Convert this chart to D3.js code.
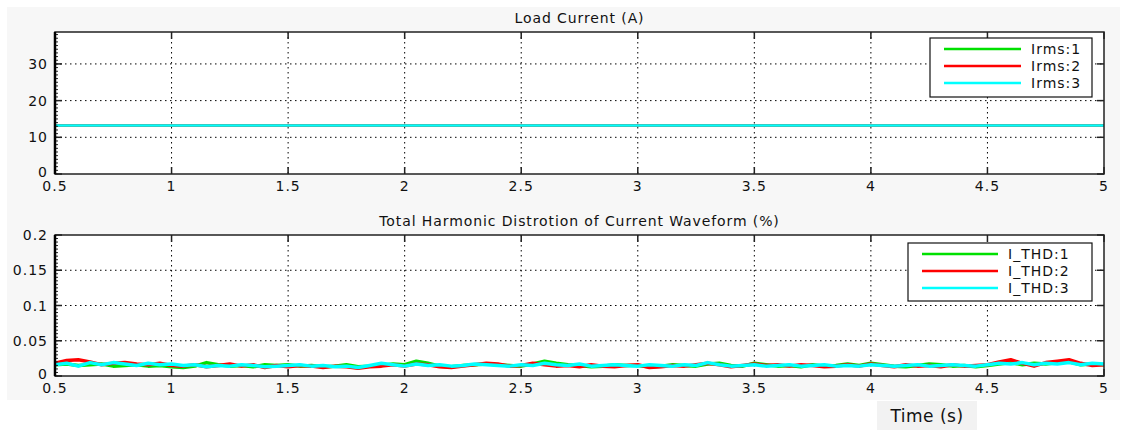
<!DOCTYPE html>
<html>
<head>
<meta charset="utf-8">
<script src="https://cdn.jsdelivr.net/npm/d3@7"></script>
<style>
  body { margin: 0; background: #fff; }
  text { font-family: "DejaVu Sans", sans-serif; fill: #111; }
</style>
</head>
<body>
<div id="chart"></div>
<script>
// ---------------------------------------------------------------
// data
// ---------------------------------------------------------------
var xTicks = [0.5, 1, 1.5, 2, 2.5, 3, 3.5, 4, 4.5, 5];
var xTickLabels = ["0.5", "1", "1.5", "2", "2.5", "3", "3.5", "4", "4.5", "5"];
var rmsTicks = [0, 10, 20, 30];
var thdTicks = [0, 0.05, 0.1, 0.15, 0.2];
var thdTickLabels = ["0", "0.05", "0.1", "0.15", "0.2"];

var rmsNames = ["Irms:1", "Irms:2", "Irms:3"];
var thdNames = ["I_THD:1", "I_THD:2", "I_THD:3"];
var colors = ["#00e000", "#ff0000", "#00ffff"];

// Load current: flat 13.2 A for all three phases
var rmsTime = [0.5, 5];
var irms1 = [13.2, 13.2];
var irms2 = [13.2, 13.2];
var irms3 = [13.2, 13.2];

// THD samples every 0.05 s from 0.5 to 5 s
var thdStep = 0.05;
var thd1 = [0.016, 0.017, 0.015, 0.016, 0.017, 0.014, 0.015, 0.016, 0.014, 0.015,
            0.013, 0.012, 0.014, 0.019, 0.016, 0.014, 0.015, 0.013, 0.016, 0.015,
            0.016, 0.014, 0.015, 0.013, 0.014, 0.016, 0.013, 0.014, 0.015, 0.017,
            0.016, 0.021, 0.018, 0.014, 0.013, 0.015, 0.016, 0.017, 0.016, 0.015,
            0.014, 0.017, 0.021, 0.018, 0.016, 0.015, 0.013, 0.014, 0.016, 0.015,
            0.015, 0.013, 0.014, 0.016, 0.015, 0.014, 0.017, 0.018, 0.015, 0.014,
            0.018, 0.016, 0.014, 0.015, 0.013, 0.016, 0.014, 0.015, 0.017, 0.015,
            0.018, 0.016, 0.014, 0.013, 0.015, 0.017, 0.016, 0.014, 0.015, 0.013,
            0.015, 0.017, 0.019, 0.016, 0.018, 0.017, 0.019, 0.020, 0.016, 0.017,
            0.016];
var thd2 = [0.018, 0.022, 0.023, 0.020, 0.016, 0.018, 0.019, 0.017, 0.016, 0.018,
            0.015, 0.014, 0.016, 0.013, 0.015, 0.017, 0.014, 0.016, 0.012, 0.015,
            0.013, 0.015, 0.014, 0.012, 0.014, 0.013, 0.011, 0.013, 0.014, 0.016,
            0.014, 0.017, 0.016, 0.013, 0.012, 0.014, 0.016, 0.018, 0.017, 0.014,
            0.015, 0.018, 0.016, 0.014, 0.015, 0.013, 0.016, 0.014, 0.013, 0.015,
            0.016, 0.012, 0.013, 0.015, 0.014, 0.016, 0.018, 0.016, 0.013, 0.015,
            0.017, 0.015, 0.016, 0.014, 0.016, 0.015, 0.013, 0.014, 0.016, 0.014,
            0.017, 0.015, 0.013, 0.016, 0.014, 0.015, 0.013, 0.016, 0.014, 0.015,
            0.016, 0.020, 0.023, 0.018, 0.014, 0.019, 0.021, 0.023, 0.018, 0.015,
            0.016];
var thd3 = [0.016, 0.018, 0.014, 0.019, 0.016, 0.019, 0.017, 0.015, 0.018, 0.016,
            0.017, 0.015, 0.016, 0.013, 0.015, 0.014, 0.016, 0.015, 0.013, 0.014,
            0.015, 0.016, 0.014, 0.015, 0.013, 0.014, 0.012, 0.015, 0.018, 0.016,
            0.014, 0.017, 0.015, 0.016, 0.014, 0.015, 0.017, 0.016, 0.015, 0.014,
            0.016, 0.015, 0.018, 0.016, 0.015, 0.017, 0.014, 0.015, 0.016, 0.015,
            0.014, 0.016, 0.015, 0.014, 0.016, 0.015, 0.019, 0.016, 0.014, 0.015,
            0.016, 0.014, 0.015, 0.016, 0.014, 0.015, 0.016, 0.014, 0.015, 0.014,
            0.016, 0.015, 0.014, 0.015, 0.016, 0.014, 0.015, 0.016, 0.015, 0.014,
            0.016, 0.018, 0.017, 0.019, 0.016, 0.018, 0.017, 0.019, 0.016, 0.018,
            0.017];

// ---------------------------------------------------------------
var W = 1126, H = 430;
var svg = d3.select("#chart").append("svg")
    .attr("width", W).attr("height", H);

svg.append("rect").attr("x", 7).attr("y", 7).attr("width", 1113).attr("height", 393)
    .attr("fill", "#f7f7f7");

var x = d3.scaleLinear().domain([0.5, 5]).range([55, 1104]);

function panel(opts) {
  var y = d3.scaleLinear().domain(opts.yDomain).range([opts.bottom, opts.top]);
  var g = svg.append("g");
  var x0 = x.range()[0], x1 = x.range()[1];

  g.append("rect").attr("x", x0).attr("y", opts.top)
    .attr("width", x1 - x0).attr("height", opts.bottom - opts.top)
    .attr("fill", "#fff");

  // dotted grid
  xTicks.slice(1, -1).forEach(function(t) {
    g.append("line").attr("x1", x(t)).attr("x2", x(t))
      .attr("y1", opts.top).attr("y2", opts.bottom)
      .attr("stroke", "#000").attr("stroke-width", 1).attr("stroke-dasharray", "1.5,3.5");
  });
  opts.yTicks.slice(1).forEach(function(t) {
    if (y(t) <= opts.top + 1) return;
    g.append("line").attr("x1", x0).attr("x2", x1)
      .attr("y1", y(t)).attr("y2", y(t))
      .attr("stroke", "#000").attr("stroke-width", 1).attr("stroke-dasharray", "1.5,3.5");
  });

  // traces
  var line = d3.line().x(function(d) { return x(d[0]); }).y(function(d) { return y(d[1]); });
  opts.series.forEach(function(s, i) {
    var pts = s.map(function(v, j) { return [opts.time[j], v]; });
    g.append("path").datum(pts).attr("d", line)
      .attr("fill", "none").attr("stroke", colors[i])
      .attr("stroke-width", opts.lw).attr("stroke-linejoin", "round");
  });

  // minor ticks on left
  var yMax = opts.yDomain[1];
  d3.range(0, yMax, opts.minor).forEach(function(t) {
    g.append("line").attr("x1", x0).attr("x2", x0 + 3)
      .attr("y1", y(t)).attr("y2", y(t)).attr("stroke", "#222").attr("stroke-width", 1);
  });

  // major ticks inward on all sides
  xTicks.forEach(function(t) {
    g.append("line").attr("x1", x(t)).attr("x2", x(t))
      .attr("y1", opts.bottom).attr("y2", opts.bottom - 7).attr("stroke", "#222").attr("stroke-width", 1.5);
    g.append("line").attr("x1", x(t)).attr("x2", x(t))
      .attr("y1", opts.top).attr("y2", opts.top + 7).attr("stroke", "#222").attr("stroke-width", 1.5);
  });
  opts.yTicks.forEach(function(t) {
    g.append("line").attr("x1", x0).attr("x2", x0 + 7)
      .attr("y1", y(t)).attr("y2", y(t)).attr("stroke", "#222").attr("stroke-width", 1.5);
    g.append("line").attr("x1", x1).attr("x2", x1 - 7)
      .attr("y1", y(t)).attr("y2", y(t)).attr("stroke", "#222").attr("stroke-width", 1.5);
  });

  // frame
  g.append("rect").attr("x", x0).attr("y", opts.top)
    .attr("width", x1 - x0).attr("height", opts.bottom - opts.top)
    .attr("fill", "none").attr("stroke", "#222").attr("stroke-width", 1.5);
  g.append("line").attr("x1", x0).attr("x2", x0).attr("y1", opts.top).attr("y2", opts.bottom)
    .attr("stroke", "#000").attr("stroke-width", 2.5);

  // labels
  xTicks.forEach(function(t, i) {
    g.append("text").attr("x", x(t)).attr("y", opts.bottom + 17)
      .attr("text-anchor", "middle").attr("font-size", 14).attr("letter-spacing", 1)
      .text(xTickLabels[i]);
  });
  opts.yTicks.forEach(function(t, i) {
    g.append("text").attr("x", 48).attr("y", y(t) + (i === 0 ? 3 : 5))
      .attr("text-anchor", "end").attr("font-size", 14).attr("letter-spacing", 1)
      .text(opts.yLabels[i]);
  });
  g.append("text").attr("x", (x0 + x1) / 2).attr("y", opts.top - 9)
    .attr("text-anchor", "middle").attr("font-size", 14).attr("letter-spacing", 0.9)
    .text(opts.title);

  // legend
  var L = opts.legend;
  g.append("rect").attr("x", L.x).attr("y", L.y).attr("width", L.w).attr("height", L.h)
    .attr("fill", "#fff").attr("stroke", "#111").attr("stroke-width", 1.2);
  opts.names.forEach(function(n, i) {
    var ly = L.y + 11 + i * 17;
    g.append("line").attr("x1", L.x + 14).attr("x2", L.x + 14 + L.len)
      .attr("y1", ly).attr("y2", ly).attr("stroke", colors[i]).attr("stroke-width", 2.5);
    g.append("text").attr("x", L.x + L.len + 24).attr("y", ly + 5)
      .attr("font-size", 14).attr("letter-spacing", 1).text(n);
  });
}

panel({
  title: "Load Current (A)",
  top: 32, bottom: 174, yDomain: [0, 38.7],
  yTicks: rmsTicks, yLabels: rmsTicks.map(String), minor: 1,
  time: rmsTime, series: [irms1, irms2, irms3], lw: 2.5,
  names: rmsNames,
  legend: { x: 930, y: 38, w: 162, h: 59, len: 77 }
});

var thdTime = thd1.map(function(v, i) { return 0.5 + i * thdStep; });
panel({
  title: "Total Harmonic Distrotion of Current Waveform (%)",
  top: 235, bottom: 376, yDomain: [0, 0.2],
  yTicks: thdTicks, yLabels: thdTickLabels, minor: 0.005,
  time: thdTime, series: [thd1, thd2, thd3], lw: 3.5,
  names: thdNames,
  legend: { x: 908, y: 243, w: 184, h: 58, len: 76 }
});

// x label in its own grey box
svg.append("rect").attr("x", 877).attr("y", 401).attr("width", 100).attr("height", 29)
  .attr("fill", "#f2f2f2");
svg.append("text").attr("x", 927).attr("y", 422).attr("text-anchor", "middle")
  .attr("font-size", 17).attr("letter-spacing", 0.5).text("Time (s)");
</script>
</body>
</html>
